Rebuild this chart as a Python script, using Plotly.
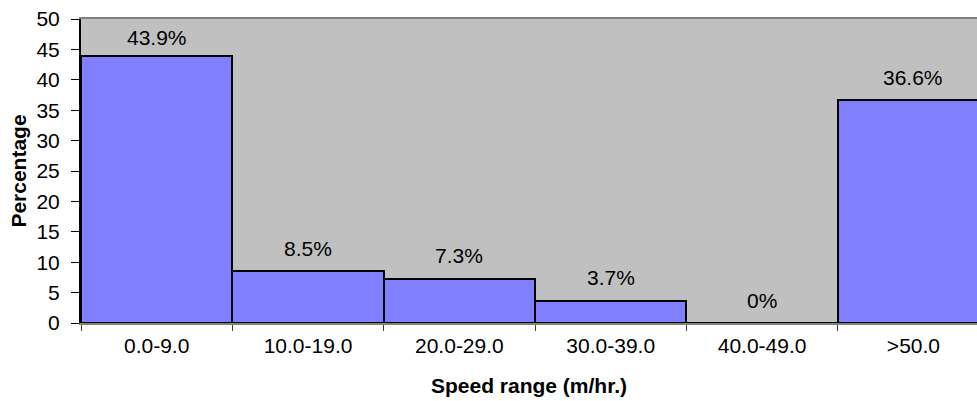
import plotly.graph_objects as go

categories = ["0.0-9.0", "10.0-19.0", "20.0-29.0", "30.0-39.0", "40.0-49.0", ">50.0"]
values = [43.9, 8.5, 7.3, 3.7, 0, 36.6]
labels = ["43.9%", "8.5%", "7.3%", "3.7%", "0%", "36.6%"]
y_ticks = [0, 5, 10, 15, 20, 25, 30, 35, 40, 45, 50]

FONT = "Liberation Sans, Arial, sans-serif"
FS = 21

fig = go.Figure()
fig.add_trace(go.Bar(
    x=categories, y=values,
    marker=dict(color="#8080FF", line=dict(color="black", width=2)),
    width=1.0,
    hoverinfo="skip",
))

for i, (c, v, t) in enumerate(zip(categories, values, labels)):
    fig.add_annotation(
        x=c, y=v, text=t, showarrow=False,
        yanchor="middle", yshift=19 if i == 0 else 23,
        font=dict(family=FONT, size=FS, color="black"),
    )

fig.update_layout(
    width=977, height=401,
    margin=dict(l=81, r=0, t=19, b=78),
    paper_bgcolor="white", plot_bgcolor="#C0C0C0",
    bargap=0, showlegend=False,
    font=dict(family=FONT, size=FS, color="black"),
)
fig.update_xaxes(
    type="category", range=[-0.5, 5.42],
    showline=True, linecolor="#808080", linewidth=2, mirror=True,
    ticks="outside", tickson="boundaries", ticklen=6, tickcolor="#404040", tickwidth=1,
    showgrid=False, zeroline=False,
    tickfont=dict(family=FONT, size=FS), ticklabelstandoff=3,
    title=dict(text="<b>Speed range (m/hr.)</b>", font=dict(family=FONT, size=FS), standoff=22),
)
fig.update_yaxes(
    range=[0, 50], tickvals=y_ticks,
    showline=True, linecolor="black", linewidth=2,
    ticks="outside", ticklen=8, tickcolor="black", tickwidth=1,
    showgrid=False, zeroline=False,
    tickfont=dict(family=FONT, size=FS), ticklabelstandoff=7,
    ticklabeloverflow="allow",
    title=dict(text="<b>Percentage</b>", font=dict(family=FONT, size=FS), standoff=4),
)

fig.write_html(
    "out.html",
    config={"displayModeBar": False},
    post_script="document.body.style.margin='0';document.body.style.overflow='hidden';",
)
